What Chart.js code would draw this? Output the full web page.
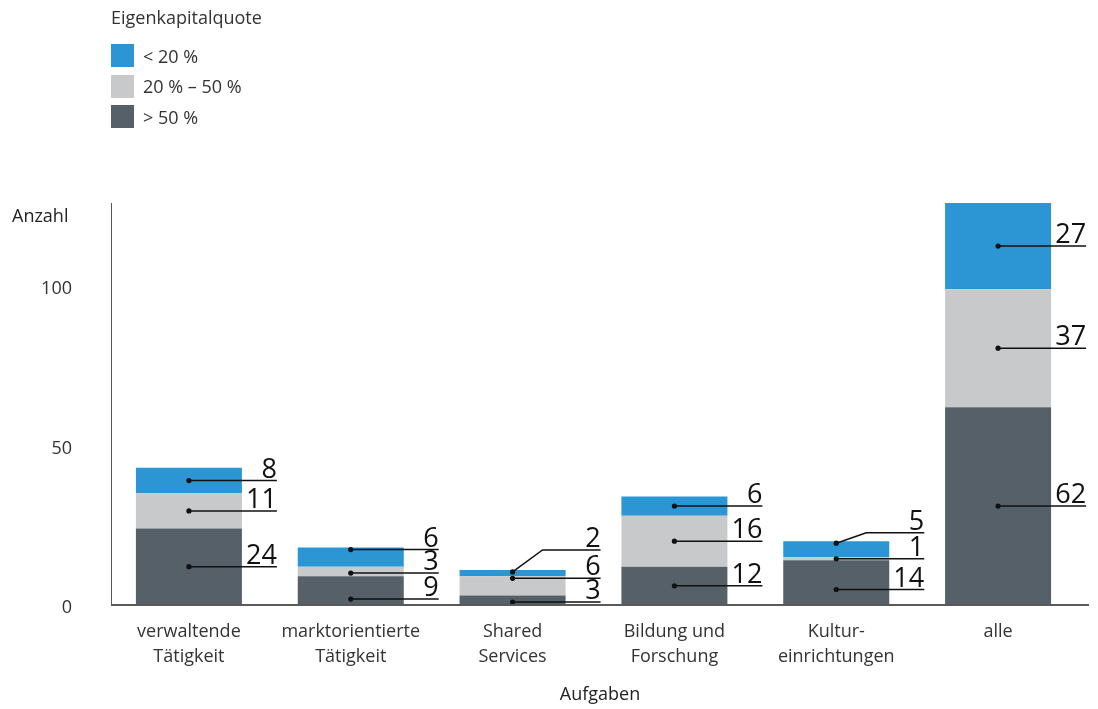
<!DOCTYPE html>
<html lang="de">
<head>
<meta charset="utf-8">
<title>Eigenkapitalquote nach Aufgaben</title>
<script src="https://cdn.jsdelivr.net/npm/chart.js@4.4.1/dist/chart.umd.min.js"></script>
<style>
  html, body { margin: 0; padding: 0; background: #fff; }
  body { width: 1098px; height: 709px; position: relative; overflow: hidden;
         font-family: "Open Sans", sans-serif; color: #333; }
  #diagramm { position: absolute; left: 0; top: 0; }
  #legende { position: absolute; left: 111px; top: 5px; font-size: 18px; }
  #legende .titel { height: 24px; line-height: 24px; margin-bottom: 15px; }
  #legende .eintrag { display: flex; align-items: center; height: 23px; margin-bottom: 7.5px; }
  #legende .box { width: 23px; height: 23px; margin-right: 9px; }
</style>
</head>
<body>
<canvas id="diagramm" width="1098" height="709"></canvas>
<div id="legende"></div>

<script>
// Aufgabenbereiche (x-Achse)
const kategorien = [
    ['verwaltende', 'Tätigkeit'],
    ['marktorientierte', 'Tätigkeit'],
    ['Shared', 'Services'],
    ['Bildung und', 'Forschung'],
    ['Kultur-', 'einrichtungen'],
    'alle'
];

// Anzahl je Eigenkapitalquote, von unten nach oben gestapelt
const ueber50 = [24, 9, 3, 12, 14, 62];
const zwischen20und50 = [11, 3, 6, 16, 1, 37];
const unter20 = [8, 6, 2, 6, 5, 27];

const serienNamen = ['> 50 %', '20 % – 50 %', '< 20 %'];
const farben = ['#566069', '#c8c9cb', '#2b96d3'];
const yTicks = [0, 50, 100];

const schrift = '"Open Sans", sans-serif';
const ABSTAND = 26;

// Legende oben links (Reihenfolge wie im Stapel von oben)
var legende = document.getElementById('legende');
legende.innerHTML = '<div class="titel">Eigenkapitalquote</div>';
for (var k = serienNamen.length - 1; k >= 0; k--) {
    legende.innerHTML += '<div class="eintrag"><div class="box" style="background:' + farben[k] +
        '"></div><span>' + serienNamen[k] + '</span></div>';
}

// Beschriftungen so verteilen, dass sie sich nicht überlappen
function spreizen(ideal, abstand, grenze) {
    let gruppen = ideal.map((y, k) => ({start: k, n: 1, summe: y}));
    let pos = [];
    const lage = () => {
        pos = [];
        gruppen.forEach(g => {
            const c = g.summe / g.n;
            for (let j = 0; j < g.n; j++) pos.push(c + ((g.n - 1) / 2 - j) * abstand);
        });
    };
    lage();
    let zusammen = true;
    while (zusammen) {
        zusammen = false;
        for (let k = 0; k < gruppen.length - 1; k++) {
            const a = gruppen[k], b = gruppen[k + 1];
            if (pos[a.start + a.n - 1] - pos[b.start] < abstand) {
                a.n += b.n;
                a.summe += b.summe;
                gruppen.splice(k + 1, 1);
                lage();
                zusammen = true;
                break;
            }
        }
    }
    pos[0] = Math.min(pos[0], grenze);
    for (let k = 1; k < pos.length; k++) pos[k] = Math.min(pos[k], pos[k - 1] - abstand);
    return pos;
}

// Werte mit Punkt und Hinweislinie rechts neben den Balken
const beschriftung = {
    id: 'beschriftung',
    afterDatasetsDraw(chart) {
        const ctx = chart.ctx;
        const grundlinie = chart.scales.y.getPixelForValue(0);
        ctx.save();
        ctx.strokeStyle = '#111';
        ctx.fillStyle = '#111';
        ctx.lineWidth = 1.5;
        ctx.font = '27px ' + schrift;
        ctx.textAlign = 'right';
        ctx.textBaseline = 'alphabetic';
        for (let i = 0; i < chart.data.labels.length; i++) {
            const teile = chart.data.datasets.map((ds, d) => {
                const bar = chart.getDatasetMeta(d).data[i];
                const oben = Math.min(bar.y, bar.base);
                const unten = Math.max(bar.y, bar.base);
                return {wert: ds.data[i], x: bar.x, rechts: bar.x + bar.width / 2,
                        oben: oben, unten: unten, mitte: (oben + unten) / 2};
            });
            const ys = spreizen(teile.map(t => t.mitte), ABSTAND, grundlinie - 3);
            let vorher = Infinity;
            teile.forEach((t, k) => {
                let ly = ys[k];
                const m = Math.min(2, (t.unten - t.oben) / 2);
                const py = Math.max(t.oben + m, Math.min(t.unten - m, ly));
                // kleine Versätze gerade ziehen, solange der Abstand reicht
                if (Math.abs(py - ly) <= 6 && py <= vorher - (ABSTAND - 4)) {
                    ly = py;
                } else {
                    ly = Math.min(ly, vorher - ABSTAND);
                }
                vorher = ly;
                const ende = t.rechts + 35;
                ctx.beginPath();
                ctx.moveTo(t.x, py);
                if (ly !== py) ctx.lineTo(t.x + 30, ly);
                ctx.lineTo(ende, ly);
                ctx.stroke();
                ctx.beginPath();
                ctx.arc(t.x, py, 2.6, 0, Math.PI * 2);
                ctx.fill();
                ctx.fillText(String(t.wert), ende, ly - 3);
            });
        }
        ctx.restore();
    },
    afterDraw(chart) {
        const ctx = chart.ctx;
        const a = chart.chartArea;
        const achseX = a.left + 3;
        ctx.save();
        // Achsenlinien
        ctx.strokeStyle = '#5a5a5a';
        ctx.lineWidth = 1;
        ctx.beginPath();
        ctx.moveTo(achseX + 0.5, a.top);
        ctx.lineTo(achseX + 0.5, a.bottom);
        ctx.stroke();
        ctx.lineWidth = 2;
        ctx.beginPath();
        ctx.moveTo(achseX, a.bottom);
        ctx.lineTo(a.right + 10, a.bottom);
        ctx.stroke();
        // Achsentitel
        ctx.fillStyle = '#222';
        ctx.font = '18px ' + schrift;
        ctx.textBaseline = 'middle';
        ctx.textAlign = 'left';
        ctx.fillText('Anzahl', 12, a.top + 14);
        ctx.textAlign = 'center';
        ctx.fillText('Aufgaben', (achseX + a.right + 10) / 2, 695);
        ctx.restore();
    }
};

new Chart(document.getElementById('diagramm'), {
    type: 'bar',
    data: {
        labels: kategorien,
        datasets: [
            {label: serienNamen[0], data: ueber50, backgroundColor: farben[0]},
            {label: serienNamen[1], data: zwischen20und50, backgroundColor: farben[1]},
            {label: serienNamen[2], data: unter20, backgroundColor: farben[2]}
        ]
    },
    options: {
        responsive: false,
        animation: false,
        categoryPercentage: 1,
        barPercentage: 0.655,
        layout: {padding: {top: 203, right: 19, bottom: 0, left: 0}},
        plugins: {
            legend: {display: false},
            tooltip: {enabled: false}
        },
        scales: {
            x: {
                stacked: true,
                grid: {display: false, drawTicks: false},
                border: {display: false},
                ticks: {
                    color: '#333',
                    font: {family: schrift, size: 18, lineHeight: 1.35},
                    padding: 15,
                    maxRotation: 0,
                    autoSkip: false
                },
                afterFit: function (s) { s.height = 104; }
            },
            y: {
                stacked: true,
                min: 0,
                max: 126,
                grid: {display: false, drawTicks: false},
                border: {display: false},
                ticks: {
                    color: '#333',
                    font: {family: schrift, size: 18},
                    padding: 36,
                    labelOffset: 3
                },
                afterBuildTicks: function (s) { s.ticks = yTicks.map(v => ({value: v})); },
                afterFit: function (s) { s.width = 108; }
            }
        }
    },
    plugins: [beschriftung]
});
</script>
</body>
</html>
